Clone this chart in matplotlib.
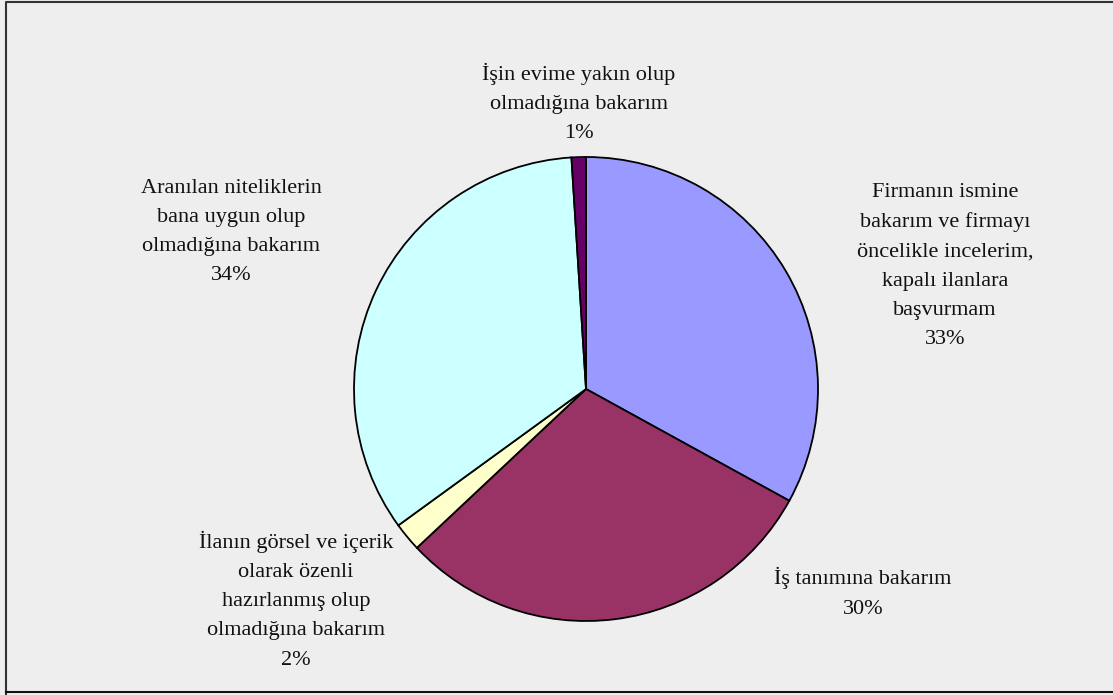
import matplotlib.pyplot as plt

plt.rcParams['font.family'] = ['Liberation Serif', 'DejaVu Serif']

labels = [
    'Firmanın ismine\nbakarım ve firmayı\nöncelikle incelerim,\nkapalı ilanlara\nbaşvurmam',
    'İş tanımına bakarım',
    'İlanın görsel ve içerik\nolarak özenli\nhazırlanmış olup\nolmadığına bakarım',
    'Aranılan niteliklerin\nbana uygun olup\nolmadığına bakarım',
    'İşin evime yakın olup\nolmadığına bakarım',
]
values = [33, 30, 2, 34, 1]
colors = ['#9999FF', '#993366', '#FFFFCC', '#CCFFFF', '#660066']

# label centres in pixel coordinates (x, y from top)
label_pos = [(945, 266), (863, 593), (296, 600), (231, 232), (579, 103)]

W, H = 1113, 695
fig = plt.figure(figsize=(W / 100, H / 100), dpi=100)
fig.patch.set_facecolor('#EEEEEE')
ax = fig.add_axes([0, 0, 1, 1])
ax.set_xlim(0, W)
ax.set_ylim(0, H)
ax.set_aspect('equal')
ax.axis('off')

ax.pie(values, colors=colors, startangle=90, counterclock=False,
       center=(586, H - 389), radius=232,
       wedgeprops=dict(edgecolor='black', linewidth=1.3))
ax.set_xlim(0, W)
ax.set_ylim(0, H)

for lab, v, (x, y) in zip(labels, values, label_pos):
    ax.text(x, H - y, f'{lab}\n{v}%', ha='center', va='center',
            fontsize=16, linespacing=1.73, color='#111111')

# chart border (left, top, bottom)
ax.plot([5.5, 5.5, W + 5], [1.5, H - 1.5, H - 1.5], color='#333333', lw=1.5,
        clip_on=False)
ax.plot([5.5, W + 5], [3.5, 3.5], color='#111111', lw=1.5, clip_on=False)

fig.savefig('out.png', dpi=100, facecolor=fig.get_facecolor())
